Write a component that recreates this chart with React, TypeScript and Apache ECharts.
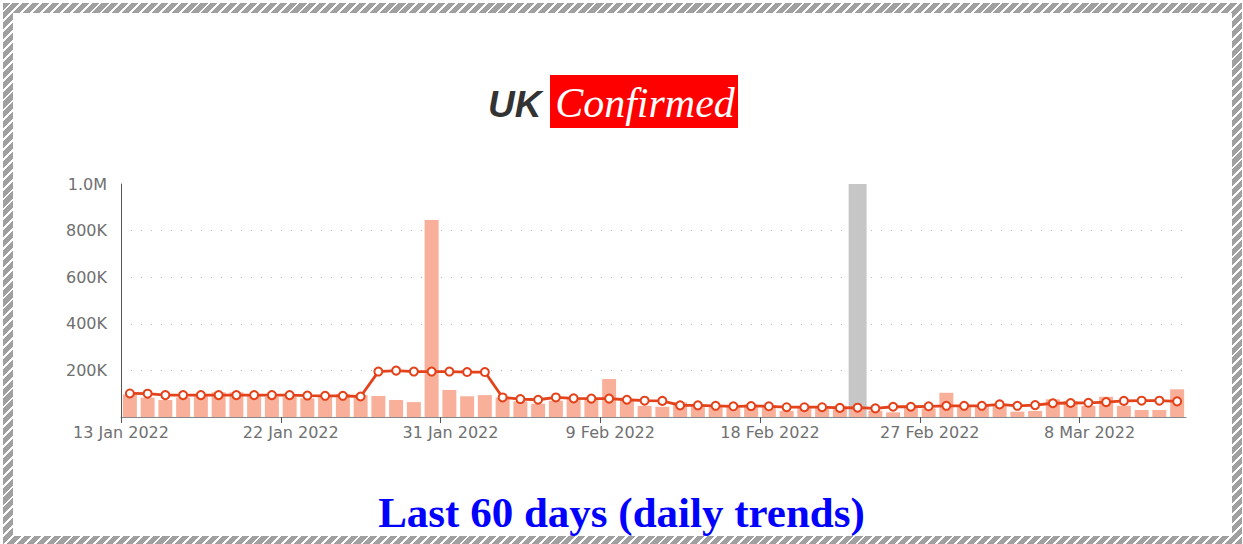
import React, { useEffect, useRef } from "react";
import * as echarts from "echarts";

// Daily confirmed cases (thousands), 13 Jan 2022 .. 13 Mar 2022
const dailyK = [
  97, 83, 73, 84, 92, 106, 106, 94, 87, 87,
  80, 90, 99, 94, 90, 73, 64, 845, 116, 89,
  94, 83, 67, 57, 70, 77, 76, 163, 77, 48,
  44, 63, 51, 48, 44, 54, 51, 26, 44, 40,
  48, 35, 27, 20, 40, 37, 104, 51, 51, 54,
  23, 26, 76, 69, 48, 87, 48, 30, 30, 119,
];
// Trend line (thousands)
const trendK = [
  101, 100, 94, 94, 94, 94, 94, 94, 94, 94,
  92, 91, 91, 88, 195, 199, 195, 195, 195, 193,
  193, 84, 77, 74, 84, 80, 79, 79, 74, 70,
  69, 50, 50, 48, 46, 47, 46, 42, 42, 42,
  39, 40, 37, 44, 44, 46, 48, 48, 48, 54,
  48, 51, 59, 60, 61, 64, 69, 70, 70, 67,
];
// Highlighted day (grey full-height column)
const highlightIndex = 41;
const highlightValue = 1000000;

const xTickLabels = [
  "13 Jan 2022", "22 Jan 2022", "31 Jan 2022", "9 Feb 2022",
  "18 Feb 2022", "27 Feb 2022", "8 Mar 2022",
];
const yTickLabels = ["", "200K", "400K", "600K", "800K", "1.0M"];

const titleLeft = "UK";
const titleRight = "Confirmed";
const footer = "Last 60 days (daily trends)";

const W = 1243;
const H = 544;

export default function App() {
  const ref = useRef<HTMLDivElement>(null);

  useEffect(() => {
    if (!ref.current) return;
    const chart = echarts.init(ref.current, null, { renderer: "svg" });
    const barData = dailyK.map((v, i) => [i + 0.5, v * 1000]);
    const lineData = trendK.map((v, i) => [i + 0.5, v * 1000]);
    const hiData = dailyK.map((_, i) =>
      i === highlightIndex ? [i + 0.5, highlightValue] : [i + 0.5, null]
    );
    const labelFont = "DejaVu Sans";
    chart.setOption({
      animation: false,
      grid: { left: 121, right: W - 1186, top: 184, bottom: H - 417 },
      xAxis: [
        {
          type: "value",
          min: 0,
          max: 60,
          interval: 9,
          axisLine: { show: true, lineStyle: { color: "#888", width: 1 } },
          axisTick: { show: true, length: 6, lineStyle: { color: "#555" } },
          splitLine: { show: false },
          axisLabel: {
            showMaxLabel: false,
            color: "#707070",
            fontFamily: labelFont,
            fontSize: 16,
            margin: 7,
            formatter: (v: number) => {
              const t = xTickLabels[Math.round(v / 9)] ?? "";
              return v === 0 ? `{f|${t}}` : `{l|${t}}`;
            },
            rich: {
              f: { color: "#707070", fontFamily: labelFont, fontSize: 16 },
              l: { color: "#707070", fontFamily: labelFont, fontSize: 16, padding: [0, 0, 0, 20] },
            },
          },
        },
        {
          type: "value",
          min: 0,
          max: 60,
          show: false,
        },
      ],
      yAxis: {
        type: "value",
        min: 0,
        max: 1000000,
        interval: 200000,
        axisLine: { show: true, lineStyle: { color: "#555", width: 1 } },
        axisTick: { show: false },
        splitLine: {
          show: true,
          showMinLine: false,
          showMaxLine: false,
          lineStyle: { color: "#b8b8b8", type: [1, 9], width: 1 },
        },
        axisLabel: {
          color: "#707070",
          fontFamily: labelFont,
          fontSize: 16,
          margin: 14,
          formatter: (v: number) => yTickLabels[Math.round(v / 200000)] ?? "",
        },
      },
      series: [
        {
          type: "bar",
          xAxisIndex: 1,
          data: hiData,
          barWidth: 18,
          z: 1,
          itemStyle: { color: "#c6c6c6" },
          silent: true,
        },
        {
          type: "bar",
          xAxisIndex: 0,
          data: barData,
          barWidth: 14,
          z: 2,
          itemStyle: { color: "#f9b09b" },
        },
        {
          type: "line",
          xAxisIndex: 0,
          data: lineData,
          z: 3,
          symbol: "circle",
          symbolSize: 8,
          lineStyle: { color: "#e3421a", width: 2.8 },
          itemStyle: { color: "#fff", borderColor: "#e3421a", borderWidth: 2 },
        },
      ],
      graphic: [
        {
          type: "text",
          style: {
            text: titleLeft,
            x: 488,
            y: 104,
            verticalAlign: "middle",
            align: "left",
            font: 'italic bold 37px "Liberation Sans"',
            fill: "#333",
          },
        },
        {
          type: "rect",
          shape: { x: 550, y: 75, width: 188, height: 53 },
          style: { fill: "#ff0000" },
        },
        {
          type: "text",
          style: {
            text: titleRight,
            x: 645,
            y: 103,
            align: "center",
            verticalAlign: "middle",
            font: 'italic 42px "Liberation Serif"',
            fill: "#fff",
          },
        },
        {
          type: "text",
          style: {
            text: footer,
            x: 621.5,
            y: 512,
            align: "center",
            verticalAlign: "middle",
            font: 'bold 43px "Liberation Serif"',
            fill: "#0000ff",
          },
        },
      ],
    });
    return () => chart.dispose();
  }, []);

  return (
    <div style={{ position: "absolute", left: 0, top: 0, width: W, height: H, overflow: "hidden", background: "#fff" }}>
      <div
        style={{
          position: "absolute",
          left: 3,
          top: 3,
          width: 1239,
          height: 543,
          background:
            "repeating-linear-gradient(135deg, #a0a0a0 0px, #a0a0a0 5px, #ffffff 5px, #ffffff 7px)",
        }}
      />
      <div
        style={{
          position: "absolute",
          left: 13,
          top: 13,
          width: 1219,
          height: 523,
          background: "#fff",
        }}
      />
      <div ref={ref} style={{ position: "absolute", left: 0, top: 0, width: W, height: H }} />
    </div>
  );
}
